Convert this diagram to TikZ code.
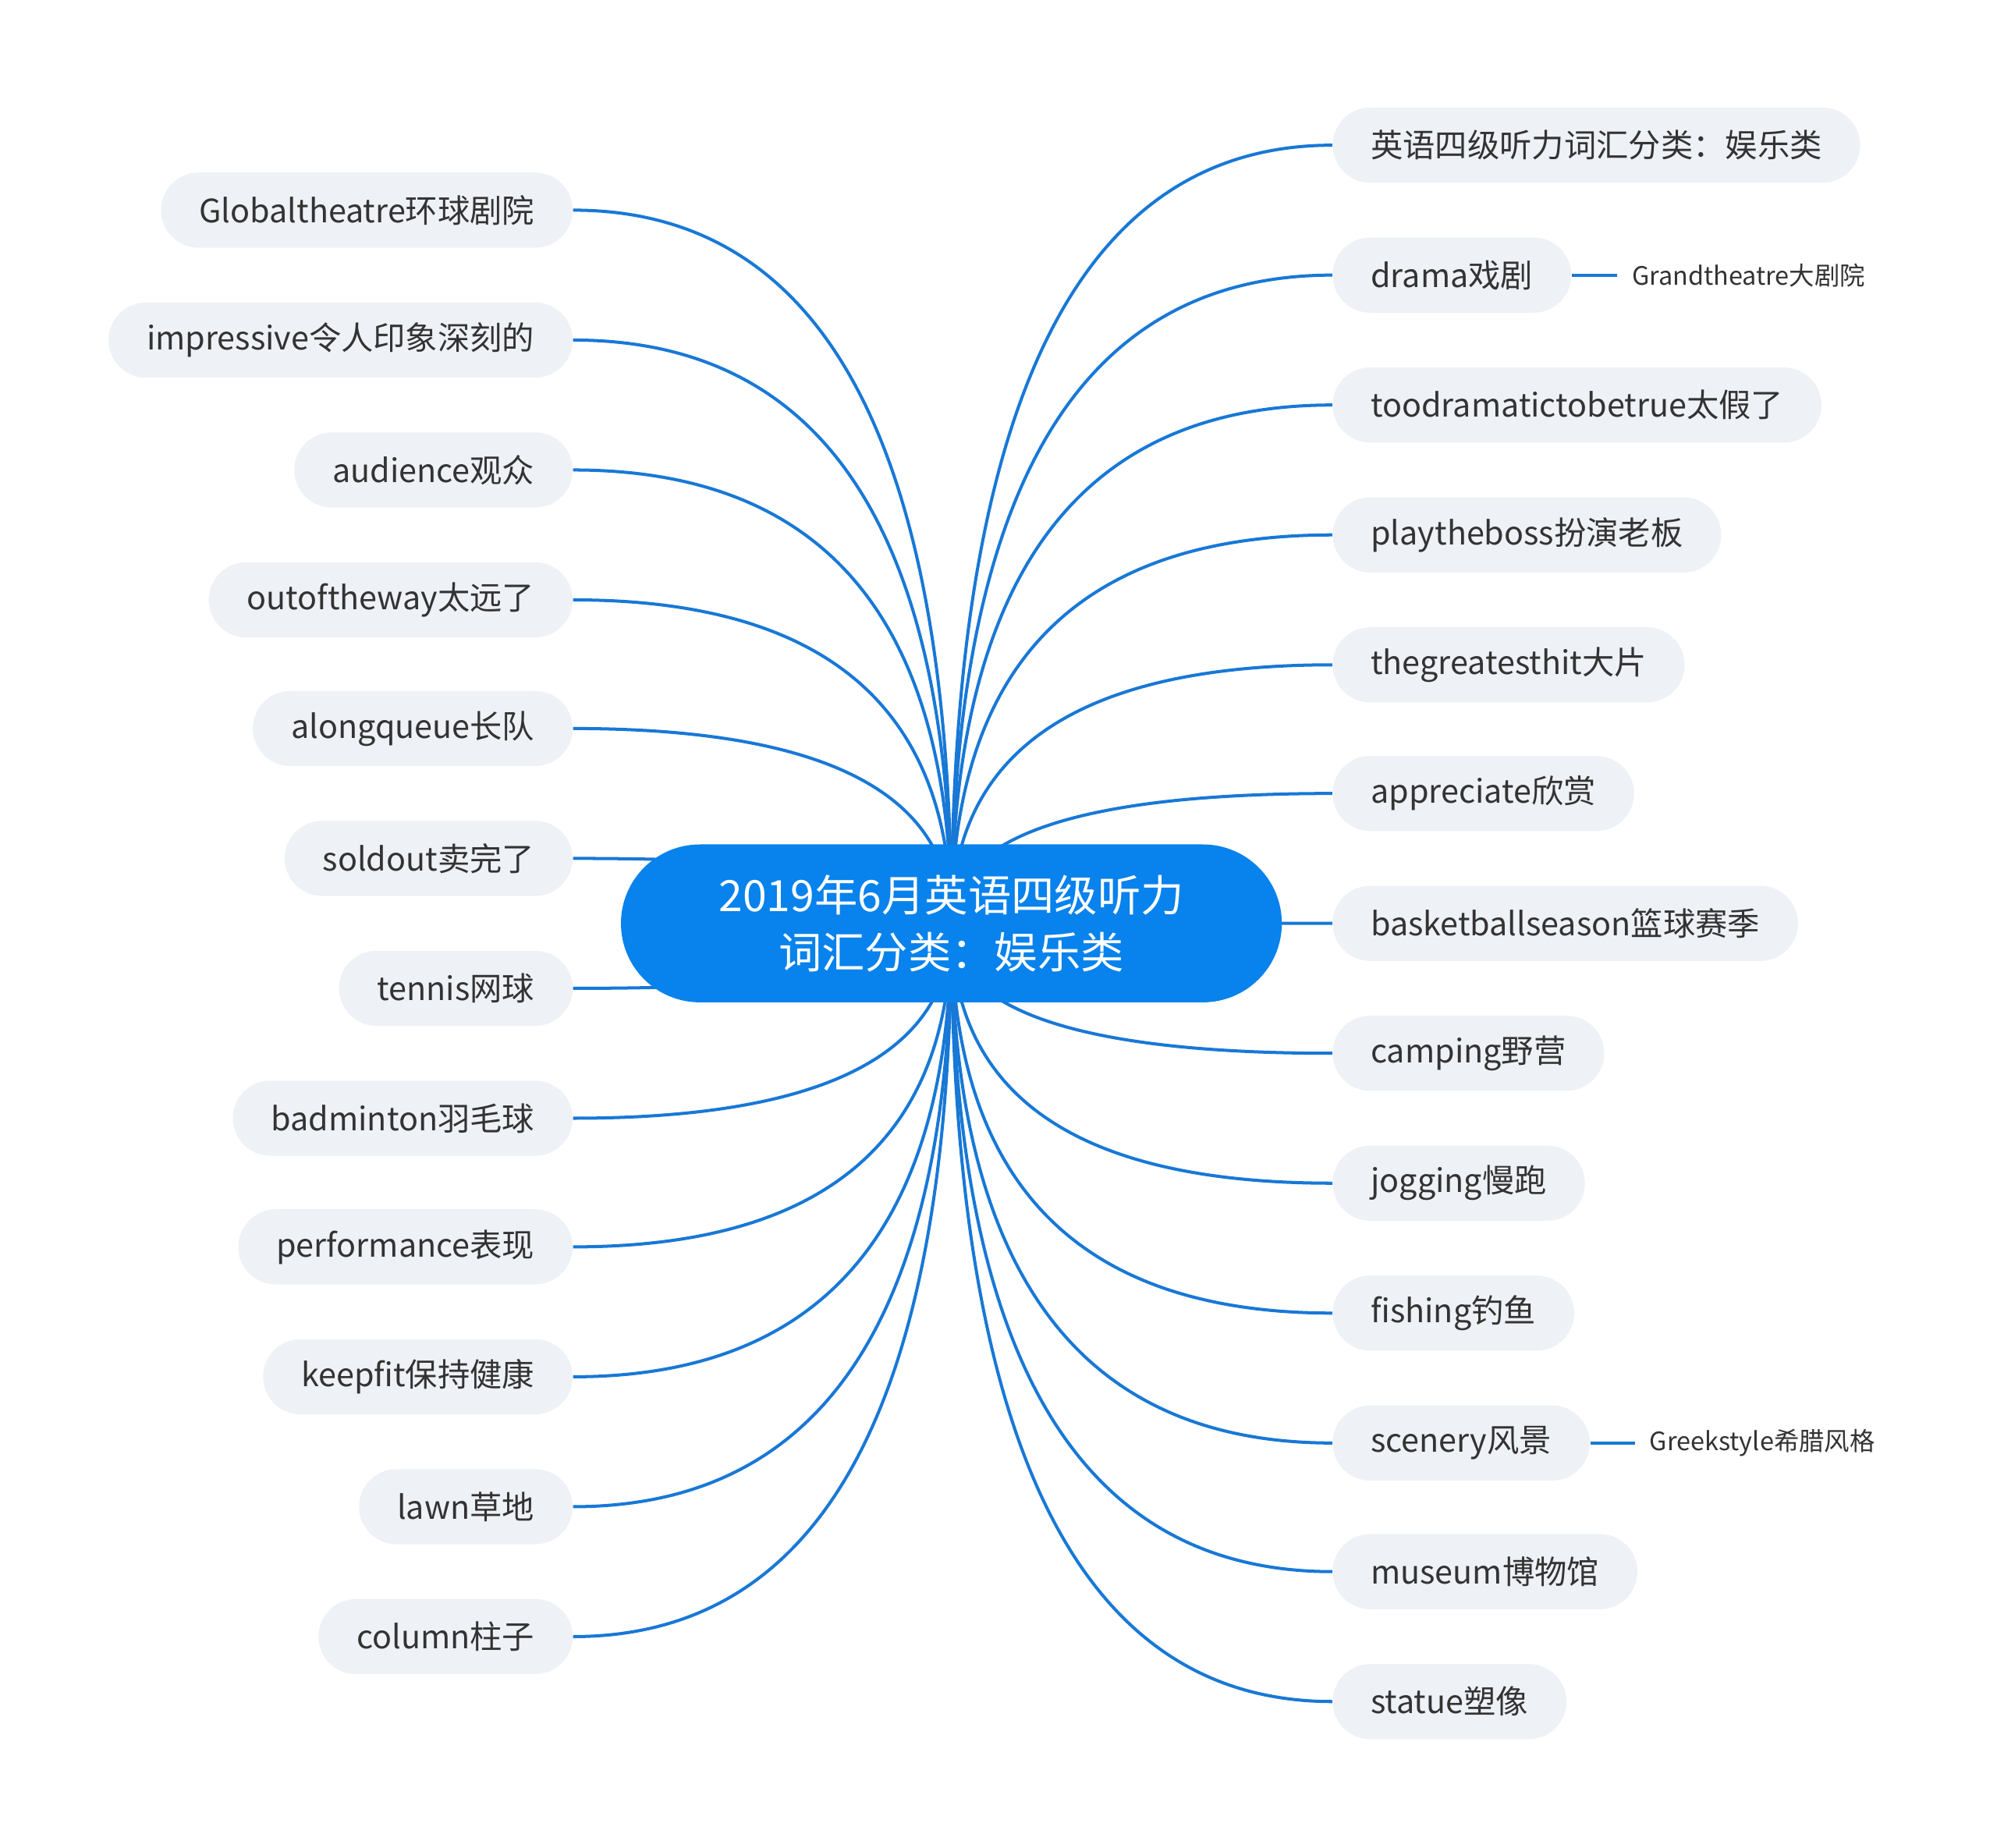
\documentclass[tikz,border=0pt]{standalone}
\usepackage{fontspec}
\setmainfont{Noto Sans CJK SC}
\usetikzlibrary{calc, backgrounds, positioning}

\definecolor{hubblue}{RGB}{8,130,236}
\definecolor{linkblue}{RGB}{24,120,214}
\definecolor{pillgray}{RGB}{238,241,245}
\definecolor{inkgray}{RGB}{51,51,51}

\tikzset{
  topic/.style={fill=hubblue, text=white, align=center,
    minimum width=10.38cm, minimum height=2.48cm, rounded corners=1.24cm,
    inner sep=0pt, font=\fontsize{19.3}{25.5}\selectfont},
  leaf/.style={fill=pillgray, text=inkgray, rounded corners=0.59cm,
    minimum height=1.18cm, inner xsep=0.6cm, inner ysep=0pt,
    font=\fontsize{14.4}{16}\selectfont},
  note/.style={text=inkgray, inner xsep=0.22cm, inner ysep=0pt,
    font=\fontsize{11.3}{13}\selectfont},
  branch/.style={draw=linkblue, line width=1.4pt},
}

% curved connector: quadratic bend through the corner (from |- to)
\newcommand{\curvelink}[2]{%
  \draw[branch] (#1) .. controls ($(#1)!0.667!(#1 |- #2)$)
    and ($(#2)!0.667!(#1 |- #2)$) .. (#2);}

\begin{document}
\begin{tikzpicture}[x=0.02cm, y=-0.02cm]
  \useasboundingbox (0,0) rectangle (1568,1451);

  %--- central topic ---
  \node[topic] (hub) at (747,725) {2019年6月英语四级听力\\词汇分类：娱乐类};

  %--- left branches ---
  \node[leaf, anchor=east] (globe)     at (450,165)  {Globaltheatre环球剧院};
  \node[leaf, anchor=east] (impress)   at (450,267)  {impressive令人印象深刻的};
  \node[leaf, anchor=east] (audience)  at (450,369)  {audience观众};
  \node[leaf, anchor=east] (outway)    at (450,471)  {outoftheway太远了};
  \node[leaf, anchor=east] (queue)     at (450,572)  {alongqueue长队};
  \node[leaf, anchor=east] (soldout)   at (450,674)  {soldout卖完了};
  \node[leaf, anchor=east] (tennis)    at (450,776)  {tennis网球};
  \node[leaf, anchor=east] (badminton) at (450,878)  {badminton羽毛球};
  \node[leaf, anchor=east] (perform)   at (450,979)  {performance表现};
  \node[leaf, anchor=east] (keepfit)   at (450,1081) {keepfit保持健康};
  \node[leaf, anchor=east] (lawn)      at (450,1183) {lawn草地};
  \node[leaf, anchor=east] (column)    at (450,1285) {column柱子};

  %--- right branches ---
  \node[leaf, anchor=west] (title)      at (1046,114)  {英语四级听力词汇分类：娱乐类};
  \node[leaf, anchor=west] (drama)      at (1046,216)  {drama戏剧};
  \node[leaf, anchor=west] (toodrama)   at (1046,318)  {toodramatictobetrue太假了};
  \node[leaf, anchor=west] (boss)       at (1046,420)  {playtheboss扮演老板};
  \node[leaf, anchor=west] (hit)        at (1046,522)  {thegreatesthit大片};
  \node[leaf, anchor=west] (appreciate) at (1046,623)  {appreciate欣赏};
  \node[leaf, anchor=west] (season)     at (1046,725)  {basketballseason篮球赛季};
  \node[leaf, anchor=west] (camping)    at (1046,827)  {camping野营};
  \node[leaf, anchor=west] (jogging)    at (1046,929)  {jogging慢跑};
  \node[leaf, anchor=west] (fishing)    at (1046,1031) {fishing钓鱼};
  \node[leaf, anchor=west] (scenery)    at (1046,1133) {scenery风景};
  \node[leaf, anchor=west] (museum)     at (1046,1234) {museum博物馆};
  \node[leaf, anchor=west] (statue)     at (1046,1336) {statue塑像};

  % sub-branches
  \node[note, anchor=west] (grand) at (1270,216)  {Grandtheatre大剧院};
  \node[note, anchor=west] (greek) at (1284,1133) {Greekstyle希腊风格};
  \draw[branch] (drama.east) -- (grand.west);
  \draw[branch] (scenery.east) -- (greek.west);

  %--- connectors behind the nodes ---
  \begin{scope}[on background layer]
    \curvelink{hub.center}{globe.east}
    \curvelink{hub.center}{impress.east}
    \curvelink{hub.center}{audience.east}
    \curvelink{hub.center}{outway.east}
    \curvelink{hub.center}{queue.east}
    \curvelink{hub.center}{soldout.east}
    \curvelink{hub.center}{tennis.east}
    \curvelink{hub.center}{badminton.east}
    \curvelink{hub.center}{perform.east}
    \curvelink{hub.center}{keepfit.east}
    \curvelink{hub.center}{lawn.east}
    \curvelink{hub.center}{column.east}
    \curvelink{hub.center}{title.west}
    \curvelink{hub.center}{drama.west}
    \curvelink{hub.center}{toodrama.west}
    \curvelink{hub.center}{boss.west}
    \curvelink{hub.center}{hit.west}
    \curvelink{hub.center}{appreciate.west}
    \curvelink{hub.center}{season.west}
    \curvelink{hub.center}{camping.west}
    \curvelink{hub.center}{jogging.west}
    \curvelink{hub.center}{fishing.west}
    \curvelink{hub.center}{scenery.west}
    \curvelink{hub.center}{museum.west}
    \curvelink{hub.center}{statue.west}
  \end{scope}
\end{tikzpicture}
\end{document}
